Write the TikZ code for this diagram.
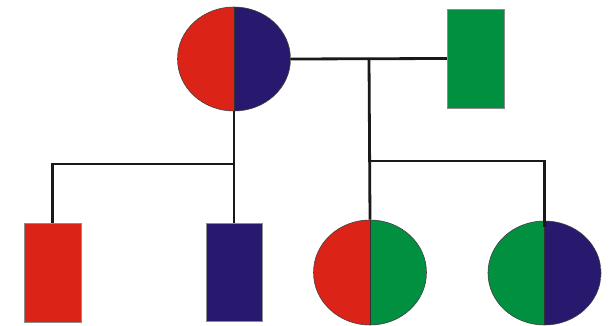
\documentclass[tikz,border=0pt]{standalone}
\usetikzlibrary{shapes.geometric}
\definecolor{pred}{HTML}{DC2318}
\definecolor{pblue}{HTML}{28186E}
\definecolor{pgreen}{HTML}{009040}
\begin{document}
\begin{tikzpicture}[x=1pt,y=-1pt,
  halves/.style 2 args={path picture={
    \fill[#1] (path picture bounding box.south west) rectangle (path picture bounding box.north);
    \fill[#2] (path picture bounding box.south) rectangle (path picture bounding box.north east);
    \draw[black!80, line width=0.8pt] (path picture bounding box.north) -- (path picture bounding box.south);}},
  female/.style={ellipse, draw=black!75, line width=0.6pt, minimum width=113pt, minimum height=104pt, inner sep=0pt},
  male/.style={rectangle, draw=black!45, line width=0.4pt, minimum width=57pt, minimum height=99pt, inner sep=0pt},
  link/.style={line width=2.8pt, draw=black!90}]
\useasboundingbox (0,0) rectangle (610,326);
% nodes
\node[female, halves={pred}{pblue}] (mother) at (234,59) {};
\node[male, fill=pgreen] (father) at (475.5,58.5) {};
\node[male, fill=pred] (son1) at (52.5,272.5) {};
\node[male, fill=pblue, minimum width=56pt, minimum height=98pt] (son2) at (234,272) {};
\node[female, halves={pred}{pgreen}, minimum height=105pt] (dau1) at (370,272.5) {};
\node[female, halves={pgreen}{pblue}] (dau2) at (544.5,273) {};
% connectors
\coordinate (mid) at (369,58);
\coordinate (j1) at (234,164);
\coordinate (j2) at (369,161);
\draw[link] (mother.east) -- (father.west);
\draw[link] (mother.south) -- (son2.north);
\draw[link] (j1) -| (son1.north);
\draw[link] (mid) -- (dau1.north);
\draw[link, shorten >=-6pt] (j2) -| (dau2.north);
\end{tikzpicture}
\end{document}
